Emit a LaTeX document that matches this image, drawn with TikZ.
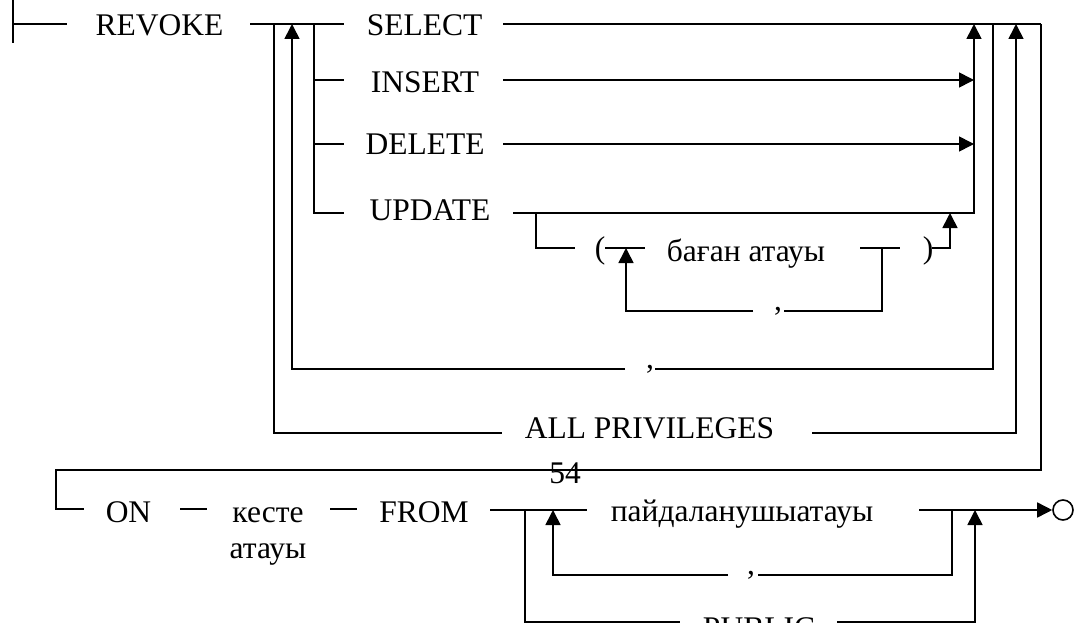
\documentclass[tikz,border=0pt]{standalone}
\usepackage{fontspec}
\setmainfont{Liberation Serif}
\usetikzlibrary{arrows.meta}

\begin{document}
\begin{tikzpicture}[x=1pt,y=-1pt,
  rail/.style={line width=1.6pt, line cap=butt, line join=miter},
  tip/.style={rail, -{Triangle[length=15pt,width=15pt]}},
  word/.style={inner sep=0pt, anchor=base, font=\fontsize{31.5}{36}\selectfont},
]
\useasboundingbox (0,0) rectangle (1074,623);
\clip (0,0) rectangle (1074,623);

% ---------- keywords and names ----------
\node[word] (revoke) at (159.5,36)  {REVOKE};
\node[word] (select) at (424.5,36)  {SELECT};
\node[word] (insert) at (425,93)    {INSERT};
\node[word] (delete) at (425,155)   {DELETE};
\node[word] (update) at (430,220)   {UPDATE};
\node[word] (lpar)   at (600,258)   {(};
\node[word] (col)    at (746,261)   {баған атауы};
\node[word] (rpar)   at (928,258)   {)};
\node[word] (comA)   at (778,310)   {,};
\node[word] (comB)   at (650,368)   {,};
\node[word] (allp)   at (649.5,438) {ALL PRIVILEGES};
\node[word] (page)   at (565,483)   {54};
\node[word] (on)     at (128.5,522) {ON};
\node[word] (tabA)   at (268,522)   {кесте};
\node[word] (tabB)   at (268,558)   {атауы};
\node[word] (from)   at (424,522)   {FROM};
\node[word] (user)   at (742,521)   {пайдаланушыатауы};
\node[word] (comC)   at (751,574)   {,};
\node[word] (public) at (759,638)   {PUBLIC};
\node[draw, circle, line width=1.6pt, minimum size=20pt, inner sep=0pt] (stop) at (1063,510) {};

% ---------- junction points ----------
\coordinate (barT) at (13,-2);   \coordinate (barB) at (13,43);
\coordinate (barM) at (13,24);   \coordinate (inR)  at (67,24);
\coordinate (rvR)  at (250,24);  \coordinate (slL)  at (344,24);
\coordinate (slR)  at (503,24);  \coordinate (topR) at (1041,24);
\coordinate (brT)  at (314,24);  \coordinate (brB)  at (314,213);
\coordinate (inL)  at (344,80);  \coordinate (brI)  at (314,80);
\coordinate (dlL)  at (344,144); \coordinate (brD)  at (314,144);
\coordinate (upL)  at (344,213);
\coordinate (inE)  at (503,80);  \coordinate (dlE)  at (503,144);
\coordinate (upE)  at (513,213);
\coordinate (c1B)  at (974,213); \coordinate (c1T)  at (974,24);
\coordinate (joinI) at (974,80); \coordinate (joinD) at (974,144);
\coordinate (uBr)  at (536,213); \coordinate (uBrB) at (536,248);
\coordinate (lpL)  at (575,248); \coordinate (lpR)  at (605,248);
\coordinate (colL) at (645,248); \coordinate (colR) at (860,248);
\coordinate (colE) at (900,248);
\coordinate (lpA)  at (626,248); \coordinate (lpAB) at (626,311);
\coordinate (cmAl) at (753,311); \coordinate (cmAr) at (784,311);
\coordinate (colJ) at (882,248); \coordinate (colJB) at (882,311);
\coordinate (rpR)  at (932,248); \coordinate (rpJ)  at (950,248);
\coordinate (rpT)  at (950,213);
\coordinate (c2T)  at (993,24);  \coordinate (c2B)  at (993,369);
\coordinate (cmBr) at (655,369); \coordinate (cmBl) at (625,369);
\coordinate (a2B)  at (292,369); \coordinate (a2T)  at (292,24);
\coordinate (alT)  at (274,24);  \coordinate (alB)  at (274,433);
\coordinate (alL)  at (502,433); \coordinate (alR)  at (812,433);
\coordinate (a3B)  at (1016,433); \coordinate (a3T) at (1016,24);
\coordinate (retR) at (1041,470); \coordinate (retL) at (56,470);
\coordinate (onS)  at (56,509);  \coordinate (onL)  at (84,509);
\coordinate (d1L)  at (180,509); \coordinate (d1R)  at (207,509);
\coordinate (d2L)  at (330,509); \coordinate (d2R)  at (357,509);
\coordinate (frR)  at (490,510); \coordinate (usL)  at (587,510);
\coordinate (usR)  at (919,510);
\coordinate (puT)  at (525,510); \coordinate (puB)  at (525,622);
\coordinate (puL)  at (680,622); \coordinate (puR)  at (837,622);
\coordinate (a5B)  at (975,622); \coordinate (a5T)  at (975,510);
\coordinate (cmCT) at (952,510); \coordinate (cmCB) at (952,575);
\coordinate (cmCr) at (758,575); \coordinate (cmCl) at (728,575);
\coordinate (a4B)  at (553,575); \coordinate (a4T)  at (553,510);

% ---------- entry ----------
\draw[rail] (barT) -- (barB);
\draw[rail] (barM) -- (inR);

% ---------- privilege list ----------
\draw[rail] (rvR) -- (slL);
\draw[rail] (slR) -- (topR);
\draw[rail] (brT) -- (brB) -- (upL);
\draw[rail] (brI) -- (inL);
\draw[rail] (brD) -- (dlL);
\draw[tip]  (inE) -- (joinI);
\draw[tip]  (dlE) -- (joinD);
\draw[tip]  (upE) -- (c1B) -- (c1T);

% ---------- UPDATE column list ----------
\draw[rail] (uBr) -- (uBrB) -- (lpL);
\draw[rail] (lpR) -- (colL);
\draw[rail] (colR) -- (colE);
\draw[rail] (colJ) -- (colJB) -- (cmAr);
\draw[tip]  (cmAl) -- (lpAB) -- (lpA);
\draw[tip]  (rpR) -- (rpJ) -- (rpT);

% ---------- repeat with comma ----------
\draw[rail] (c2T) -- (c2B) -- (cmBr);
\draw[tip]  (cmBl) -- (a2B) -- (a2T);

% ---------- ALL PRIVILEGES ----------
\draw[rail] (alT) -- (alB) -- (alL);
\draw[tip]  (alR) -- (a3B) -- (a3T);

% ---------- return to second line ----------
\draw[rail] (topR) -- (retR) -- (retL) -- (onS) -- (onL);
\draw[rail] (d1L) -- (d1R);
\draw[rail] (d2L) -- (d2R);
\draw[rail] (frR) -- (usL);
\draw[tip]  (usR) -- (stop.west);

% ---------- user list ----------
\draw[rail] (cmCT) -- (cmCB) -- (cmCr);
\draw[tip]  (cmCl) -- (a4B) -- (a4T);
\draw[rail] (puT) -- (puB) -- (puL);
\draw[tip]  (puR) -- (a5B) -- (a5T);
\end{tikzpicture}
\end{document}
